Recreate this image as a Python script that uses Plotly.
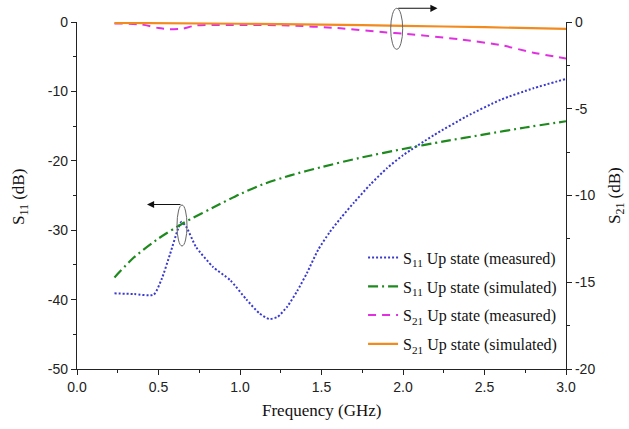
import plotly.graph_objects as go

# ---- data ----
f_s11_meas = [0.23, 0.35, 0.47, 0.52, 0.57, 0.62, 0.64, 0.67, 0.73, 0.835, 0.94, 1.04, 1.12, 1.18,
              1.23, 1.29, 1.35, 1.41, 1.48, 1.55, 1.62, 1.70, 1.80, 1.90, 2.0, 2.19, 2.39, 2.6, 2.8, 3.0]
s11_meas = [-39.1, -39.2, -39.3, -37.0, -33.5, -29.8, -28.8, -29.5, -32.4, -35.3, -37.2, -40.0, -42.0, -42.8,
            -42.5, -41.0, -38.8, -36.2, -32.8, -30.3, -28.2, -26.0, -23.4, -21.1, -19.2, -16.3, -13.6, -11.2, -9.55, -8.2]

f_s11_sim = [0.23, 0.35, 0.5, 0.65, 0.88, 1.0, 1.15, 1.31, 1.5, 1.75, 2.0, 2.25, 2.5, 2.75, 3.0]
s11_sim = [-36.8, -33.9, -31.2, -29.0, -26.2, -24.8, -23.3, -22.1, -20.9, -19.5, -18.3, -17.2, -16.2, -15.2, -14.3]

f_s21_meas = [0.23, 0.40, 0.50, 0.57, 0.65, 0.73, 1.0, 1.3, 1.6, 1.9, 2.0, 2.35, 2.6, 2.8, 3.0]
s21_meas = [-0.08, -0.15, -0.35, -0.42, -0.38, -0.2, -0.17, -0.2, -0.35, -0.6, -0.67, -1.0, -1.33, -1.77, -2.1]

f_s21_sim = [0.23, 1.0, 1.5, 2.0, 2.5, 3.0]
s21_sim = [-0.05, -0.1, -0.15, -0.22, -0.3, -0.4]

x_ticks = [0.0, 0.5, 1.0, 1.5, 2.0, 2.5, 3.0]
x_tick_labels = ["0.0", "0.5", "1.0", "1.5", "2.0", "2.5", "3.0"]
y1_ticks = [0, -10, -20, -30, -40, -50]
y1_tick_labels = ["0", "-10", "-20", "-30", "-40", "-50"]
y2_ticks = [0, -5, -10, -15, -20]
y2_tick_labels = ["0", "-5", "-10", "-15", "-20"]

names = ["S<sub>11</sub> Up state (measured)", "S<sub>11</sub> Up state (simulated)",
         "S<sub>21</sub> Up state (measured)", "S<sub>21</sub> Up state (simulated)"]
x_title = "Frequency (GHz)"
y1_title = "S<sub>11</sub> (dB)"
y2_title = "S<sub>21</sub> (dB)"

serif = "Liberation Serif, Times New Roman, serif"
sans = "Liberation Sans, Arial, sans-serif"

fig = go.Figure()
fig.add_trace(go.Scatter(x=f_s11_meas, y=s11_meas, mode="lines", name=names[0], legendgroup="a",
                         line=dict(color="#3a3ad0", width=2, dash="2px,2px", shape="spline", smoothing=0.6)))
fig.add_trace(go.Scatter(x=f_s11_sim, y=s11_sim, mode="lines", name=names[1], legendgroup="b",
                         line=dict(color="#1e8a1e", width=2.2, dash="10px,4px,2px,4px", shape="spline", smoothing=0.6)))
fig.add_trace(go.Scatter(x=f_s21_meas, y=s21_meas, mode="lines", name=names[2], legendgroup="c", yaxis="y2",
                         line=dict(color="#e030e0", width=2, dash="8px,6px", shape="spline", smoothing=0.6)))
fig.add_trace(go.Scatter(x=f_s21_sim, y=s21_sim, mode="lines", name=names[3], legendgroup="d", yaxis="y2",
                         line=dict(color="#f28a1e", width=2.2, shape="spline", smoothing=0.6)))

axis_common = dict(showline=True, linecolor="#222", linewidth=1.3, ticks="outside", ticklen=5,
                   tickwidth=1.2, tickcolor="#222", showgrid=False, zeroline=False, automargin=False,
                   tickfont=dict(family=sans, size=14, color="#222"))

fig.update_layout(
    width=629, height=429,
    margin=dict(l=77, r=63, t=22, b=60),
    paper_bgcolor="white", plot_bgcolor="white",
    xaxis=dict(range=[0, 3.0], tickvals=x_ticks, ticktext=x_tick_labels,
               minor=dict(ticks="outside", ticklen=3, tickcolor="#222", dtick=0.25, tick0=0),
               **axis_common),
    yaxis=dict(range=[-50, 0], tickvals=y1_ticks, ticktext=y1_tick_labels,
               minor=dict(ticks="outside", ticklen=3, tickcolor="#222", dtick=5, tick0=0),
               **axis_common),
    yaxis2=dict(range=[-20, 0], tickvals=y2_ticks, ticktext=y2_tick_labels, overlaying="y", side="right",
                minor=dict(ticks="outside", ticklen=3, tickcolor="#222", dtick=2.5, tick0=0),
                **axis_common),
    legend=dict(x=0.585, y=0.37, xanchor="left", yanchor="top", bgcolor="rgba(0,0,0,0)",
                font=dict(family=serif, size=16, color="#111"), tracegroupgap=5, itemwidth=30),
    showlegend=True,
)

def px_to_paper(px, py):
    return (px - 77) / 489.0, (369 - py) / 347.0

# axis titles as annotations
title_font = dict(family=serif, size=17, color="#111")
tx, ty = px_to_paper(321, 410)
fig.add_annotation(x=tx, y=ty, xref="paper", yref="paper", text=x_title, showarrow=False,
                   font=title_font, xanchor="center", yanchor="middle")
tx, ty = px_to_paper(20, 197)
fig.add_annotation(x=tx, y=ty, xref="paper", yref="paper", text=y1_title, showarrow=False,
                   font=title_font, textangle=-90, xanchor="center", yanchor="middle")
tx, ty = px_to_paper(616, 196)
fig.add_annotation(x=tx, y=ty, xref="paper", yref="paper", text=y2_title, showarrow=False,
                   font=title_font, textangle=-90, xanchor="center", yanchor="middle")

# ellipses (annotation markers) in paper coords
for cx, cy, hw, hh in [(182, 225.5, 5, 20.5), (396.7, 28.8, 6, 20.5)]:
    x0, y0 = px_to_paper(cx - hw, cy + hh)
    x1, y1 = px_to_paper(cx + hw, cy - hh)
    fig.add_shape(type="circle", xref="paper", yref="paper", x0=x0, y0=y0, x1=x1, y1=y1,
                  line=dict(color="#666", width=1))

# arrows
for hx, hy, ax in [(147, 204.5, 35), (437.5, 8.3, -40.8)]:
    px, py = px_to_paper(hx, hy)
    fig.add_annotation(x=px, y=py, xref="paper", yref="paper", ax=ax, ay=0, text="",
                       showarrow=True, arrowhead=2, arrowsize=1.3, arrowwidth=1.1, arrowcolor="#111", standoff=0)

fig.write_html("out.html", config={"displayModeBar": False},
               post_script="document.body.style.margin='0';document.body.style.overflow='hidden';")
